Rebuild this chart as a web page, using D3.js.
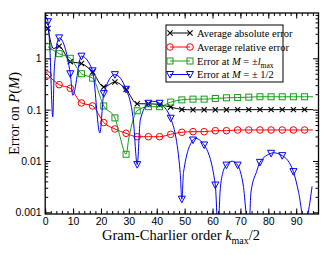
<!DOCTYPE html>
<html>
<head>
<meta charset="utf-8">
<script src="https://cdn.jsdelivr.net/npm/d3@7"></script>
<style>
  body { margin: 0; background: #fff; }
  text { fill: #000; }
</style>
</head>
<body>
<svg id="chart" width="330" height="255"></svg>
<script>
// k_max/2 values where the symbols sit
const kMarks = [1, 5, 9, 13, 17, 21, 25, 29, 33, 37, 41, 45, 49, 53, 57, 61, 65, 69, 73, 77, 81, 85, 89, 93];

const absErr  = [3.8, 1.72, 0.86, 0.79, 0.54, 0.276, 0.345, 0.247, 0.13, 0.13, 0.125, 0.112, 0.101, 0.099, 0.099, 0.099, 0.099, 0.1, 0.1, 0.1, 0.1, 0.1, 0.1, 0.1];
const relErr  = [0.473, 0.306, 0.26, 0.135, 0.118, 0.056, 0.042, 0.0346, 0.0297, 0.0297, 0.0297, 0.033, 0.0362, 0.0372, 0.0372, 0.0389, 0.0389, 0.0401, 0.0401, 0.0401, 0.0401, 0.0401, 0.0401, 0.0401];
const lmaxErr = [1.68, 1.23, 1.0, 0.5, 0.41, 0.118, 0.069, 0.0135, 0.095, 0.114, 0.114, 0.14, 0.155, 0.16, 0.16, 0.165, 0.17, 0.172, 0.175, 0.178, 0.178, 0.178, 0.178, 0.178];
const halfErr = [5.16, 2.5, 0.5, 1.1, 0.57, 0.205, 0.48, 0.249, 0.0085, 0.133, 0.133, 0.068, 0.0018, 0.0256, 0.0205, 0.0034, 0.0083, 0.0083, 0.0004, 0.0094, 0.0141, 0.0127, 0.0062, 0.0006];

// curve points between the symbols (dips, peaks, ends)
const absExtra  = [[3, 1.55], [96, 0.1]];
const relExtra  = [[96, 0.0401]];
const lmaxExtra = [[26.8, 0.03], [30, 0.028], [31.6, 0.065], [96, 0.178]];
const halfExtra = [[0.3, 6.4], [1.7, 1.45], [2.7, 0.072], [3.3, 0.69], [9.9, 0.19], [19.6, 0.035],
                   [31.6, 0.063], [34.1, 0.063], [39, 0.145], [48.4, 0.006], [49.6, 0.006], [53.7, 0.0277],
                   [62, 0.0004], [62.7, 0.0025], [63.8, 0.0062], [67, 0.0099], [71, 0.0034], [73.8, 0.0025],
                   [75.8, 0.0062], [81.6, 0.0145], [90.9, 0.0024], [95.7, 0.0032]];

const xMajor = [0, 10, 20, 30, 40, 50, 60, 70, 80, 90];
const yMajor = [0.001, 0.01, 0.1, 1];

const svg = d3.select("#chart");
const pLeft = 45.2, pRight = 318.5, pTop = 13, pBottom = 214;

const x = d3.scaleLinear().domain([0, 98]).range([pLeft, pRight]);
const y = d3.scaleLog().domain([0.000926, 7.63]).range([pBottom, pTop]);

svg.append("clipPath").attr("id", "plotclip")
  .append("rect").attr("x", pLeft).attr("y", pTop).attr("width", pRight - pLeft).attr("height", pBottom - pTop);

// axes with inward ticks on all four sides
const xMinor = d3.range(0, 98, 2);
const yMinor = y.ticks().filter(t => !yMajor.some(m => Math.abs(m - t) < t * 1e-6));

function tickAxis(axis, tr) {
  const g = svg.append("g").attr("transform", tr).call(axis);
  g.select(".domain").remove();
  g.selectAll("line").attr("stroke", "#000").attr("stroke-width", 1);
  return g;
}

tickAxis(d3.axisBottom(x).tickValues(xMinor).tickSize(-3).tickFormat(""), `translate(0,${pBottom})`);
tickAxis(d3.axisTop(x).tickValues(xMinor).tickSize(-3).tickFormat(""), `translate(0,${pTop})`);
tickAxis(d3.axisTop(x).tickValues(xMajor).tickSize(-5.5).tickFormat(""), `translate(0,${pTop})`);
const gx = tickAxis(d3.axisBottom(x).tickValues(xMajor).tickSize(-5.5).tickPadding(4), `translate(0,${pBottom})`);
gx.selectAll("text").attr("font-family", "Liberation Sans, Arial, sans-serif").attr("font-size", "10.5px").attr("fill", "#000");

tickAxis(d3.axisLeft(y).tickValues(yMinor).tickSize(-3).tickFormat(""), `translate(${pLeft},0)`);
tickAxis(d3.axisRight(y).tickValues(yMinor).tickSize(-3).tickFormat(""), `translate(${pRight},0)`);
tickAxis(d3.axisRight(y).tickValues(yMajor).tickSize(-5.5).tickFormat(""), `translate(${pRight},0)`);
const gy = tickAxis(d3.axisLeft(y).tickValues(yMajor).tickSize(-5.5).tickPadding(3.5).tickFormat(d3.format("~g")), `translate(${pLeft},0)`);
gy.selectAll("text").attr("font-family", "Liberation Sans, Arial, sans-serif").attr("font-size", "10.5px").attr("fill", "#000");

// series
const series = [
  { name: "abs",  vals: absErr,  extra: absExtra,  color: "#000000", sym: "x" },
  { name: "rel",  vals: relErr,  extra: relExtra,  color: "#ff0000", sym: "circle" },
  { name: "lmax", vals: lmaxErr, extra: lmaxExtra, color: "#1a9c1a", sym: "square" },
  { name: "half", vals: halfErr, extra: halfExtra, color: "#0000ff", sym: "tri" }
];

const line = d3.line().x(d => x(d[0])).y(d => y(d[1])).curve(d3.curveMonotoneX);

function drawSymbol(g, sym, color, cx, cy) {
  if (sym === "x") {
    g.append("path").attr("d", `M${cx - 2.6},${cy - 2.6}L${cx + 2.6},${cy + 2.6}M${cx - 2.6},${cy + 2.6}L${cx + 2.6},${cy - 2.6}`)
      .attr("stroke", color).attr("stroke-width", 1.1).attr("fill", "none");
  } else if (sym === "circle") {
    g.append("circle").attr("cx", cx).attr("cy", cy).attr("r", 3.3)
      .attr("stroke", color).attr("stroke-width", 1).attr("fill", "none");
  } else if (sym === "square") {
    g.append("rect").attr("x", cx - 3).attr("y", cy - 3).attr("width", 6).attr("height", 6)
      .attr("stroke", color).attr("stroke-width", 1).attr("fill", "none");
  } else {
    g.append("path").attr("d", `M${cx - 3.5},${cy - 3}L${cx + 3.5},${cy - 3}L${cx},${cy + 3.6}Z`)
      .attr("stroke", color).attr("stroke-width", 1).attr("fill", "none");
  }
}

const plot = svg.append("g").attr("clip-path", "url(#plotclip)");
series.forEach(s => {
  const pts = kMarks.map((k, i) => [k, s.vals[i]]).concat(s.extra).sort((a, b) => a[0] - b[0]);
  plot.append("path").attr("d", line(pts)).attr("fill", "none")
    .attr("stroke", s.color).attr("stroke-width", 1);
  const gs = plot.append("g");
  kMarks.forEach((k, i) => drawSymbol(gs, s.sym, s.color, x(k), y(s.vals[i])));
});

// frame
svg.append("rect").attr("x", pLeft).attr("y", pTop).attr("width", pRight - pLeft).attr("height", pBottom - pTop)
  .attr("fill", "none").attr("stroke", "#000").attr("stroke-width", 1.3);

// legend
const serif = "Liberation Serif, Times New Roman, serif";
const lg = svg.append("g");
lg.append("rect").attr("x", 166).attr("y", 25).attr("width", 117).attr("height", 57)
  .attr("fill", "#fff").attr("stroke", "#000").attr("stroke-width", 1);
const legendY = [33, 47, 61, 74.5];
series.forEach((s, i) => {
  const ly = legendY[i];
  lg.append("line").attr("x1", 170).attr("x2", 190).attr("y1", ly).attr("y2", ly)
    .attr("stroke", s.color).attr("stroke-width", 1);
  drawSymbol(lg, s.sym, s.color, 170, ly);
  drawSymbol(lg, s.sym, s.color, 190, ly);
});
function legendText(i) {
  return lg.append("text").attr("x", 197).attr("y", legendY[i] + 3.6)
    .attr("font-family", serif).attr("font-size", "10.5px");
}
legendText(0).text("Average absolute error");
legendText(1).text("Average relative error");
const t3 = legendText(2);
t3.append("tspan").text("Error at ");
t3.append("tspan").attr("font-style", "italic").text("M");
t3.append("tspan").text(" = \u00b1");
t3.append("tspan").attr("font-style", "italic").text("l");
t3.append("tspan").attr("font-size", "7.5px").attr("dy", 3).text("max");
const t4 = legendText(3);
t4.append("tspan").text("Error at ");
t4.append("tspan").attr("font-style", "italic").text("M");
t4.append("tspan").text(" = \u00b1 1/2");

// axis titles
const xt = svg.append("text").attr("x", 181).attr("y", 240).attr("text-anchor", "middle")
  .attr("font-family", serif).attr("font-size", "14.5px");
xt.append("tspan").text("Gram-Charlier order ");
xt.append("tspan").attr("font-style", "italic").text("k");
xt.append("tspan").attr("font-size", "10px").attr("dy", 3.5).text("max");
xt.append("tspan").attr("dy", -3.5).text("/2");

const yt = svg.append("text").attr("transform", "translate(19,113.5) rotate(-90)").attr("text-anchor", "middle")
  .attr("font-family", serif).attr("font-size", "14.5px");
yt.append("tspan").text("Error on ");
yt.append("tspan").attr("font-style", "italic").text("P");
yt.append("tspan").text("(");
yt.append("tspan").attr("font-style", "italic").text("M");
yt.append("tspan").text(")");
</script>
</body>
</html>
